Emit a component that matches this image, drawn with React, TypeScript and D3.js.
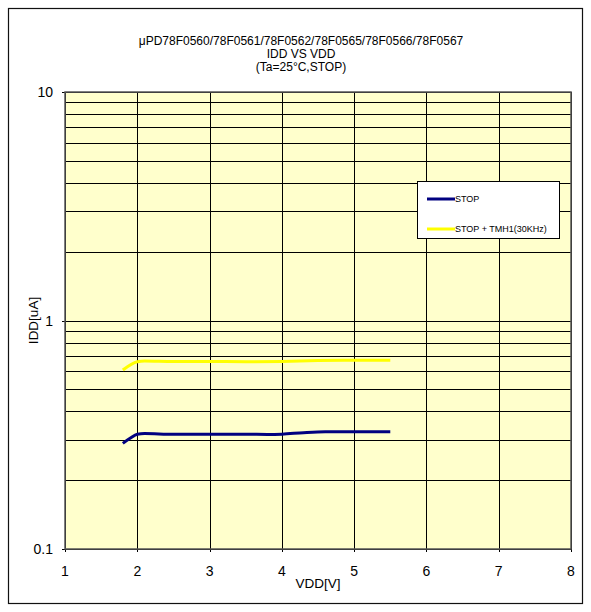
import React from "react";
import * as d3 from "d3";

const titleLines = ["μPD78F0560/78F0561/78F0562/78F0565/78F0566/78F0567", "IDD VS VDD", "(Ta=25°C,STOP)"];
const xTicks = [1, 2, 3, 4, 5, 6, 7, 8];
const yTicks = [0.1, 1, 10];
const yTickLabels = ["0.1", "1", "10"];
const vddStop = [1.8, 1.9, 2.0, 2.1, 2.5, 3.0, 3.5, 3.8, 4.0, 4.3, 4.6, 5.0, 5.5];
const iddStop = [0.29, 0.305, 0.318, 0.32, 0.318, 0.318, 0.318, 0.317, 0.318, 0.323, 0.326, 0.326, 0.326];
const vddTmh = [1.8, 2.0, 2.1, 2.5, 3.0, 3.5, 4.0, 4.5, 5.0, 5.5];
const iddTmh = [0.607, 0.66, 0.665, 0.662, 0.662, 0.66, 0.662, 0.668, 0.67, 0.67];
const seriesNames = ["STOP", "STOP + TMH1(30KHz)"];
const seriesColors = ["#000080", "#FFFF00"];

export default function App() {
  const W = 591, H = 612;
  const L = 65, R = 571, T = 92, B = 549;
  const x = d3.scaleLinear().domain([1, 8]).range([L, R]);
  const y = d3.scaleLog().domain([0.1, 10]).range([B, T]);
  const minor: number[] = [];
  [0.1, 1].forEach((d) => { for (let k = 2; k <= 9; k++) minor.push(d * k); });
  const line = d3.line<[number, number]>().x((d) => x(d[0])).y((d) => y(d[1])).curve(d3.curveMonotoneX);
  const s1 = line(vddStop.map((v, i) => [v, iddStop[i]]) as [number, number][]) || "";
  const s2 = line(vddTmh.map((v, i) => [v, iddTmh[i]]) as [number, number][]) || "";
  const font = "Arial, 'Liberation Sans', sans-serif";
  return (
    <svg width={W} height={H} style={{ position: "absolute", left: 0, top: 0 }} fontFamily={font}>
      <rect x={0} y={0} width={W} height={H} fill="#fff" />
      <rect x={8.5} y={8.5} width={574} height={595} fill="#fff" stroke="#111" strokeWidth={1.2} />
      {titleLines.map((t, i) => (
        <text key={i} x={301} y={45 + i * 13} textAnchor="middle" fontSize={12}>{t}</text>
      ))}
      <rect x={L} y={T} width={R - L} height={B - T} fill="#FFFFCC" />
      {minor.map((v, i) => (
        <line key={"m" + i} x1={L} x2={R} y1={Math.round(y(v)) + 0.5} y2={Math.round(y(v)) + 0.5} stroke="#000" strokeWidth={1} />
      ))}
      {yTicks.map((v, i) => (
        <g key={"y" + i}>
          <line x1={L - 3} x2={R} y1={Math.round(y(v)) + 0.5} y2={Math.round(y(v)) + 0.5} stroke="#000" strokeWidth={1} />
          <text x={L - 12} y={y(v) + 5} textAnchor="end" fontSize={14}>{yTickLabels[i]}</text>
        </g>
      ))}
      {xTicks.map((v, i) => (
        <g key={"x" + i}>
          <line x1={Math.round(x(v)) + 0.5} x2={Math.round(x(v)) + 0.5} y1={T} y2={B + 3} stroke="#000" strokeWidth={1} />
          <text x={x(v)} y={B + 27} textAnchor="middle" fontSize={14}>{v}</text>
        </g>
      ))}
      <rect x={L} y={T} width={R - L} height={B - T} fill="none" stroke="#555" strokeWidth={1.5} />
      <path d={s2} fill="none" stroke={seriesColors[1]} strokeWidth={3} />
      <path d={s1} fill="none" stroke={seriesColors[0]} strokeWidth={3} />
      <text x={318} y={588} textAnchor="middle" fontSize={13.5}>VDD[V]</text>
      <text transform={`translate(38,${(T + B) / 2}) rotate(-90)`} textAnchor="middle" fontSize={13.5}>IDD[uA]</text>
      <rect x={417.5} y={181.5} width={142} height={57} fill="#fff" stroke="#000" strokeWidth={1} />
      {seriesNames.map((n, i) => (
        <g key={"l" + i}>
          <line x1={427} x2={455} y1={199 + i * 30} y2={199 + i * 30} stroke={seriesColors[i]} strokeWidth={3} />
          <text x={455} y={202 + i * 30} fontSize={9}>{n}</text>
        </g>
      ))}
    </svg>
  );
}
